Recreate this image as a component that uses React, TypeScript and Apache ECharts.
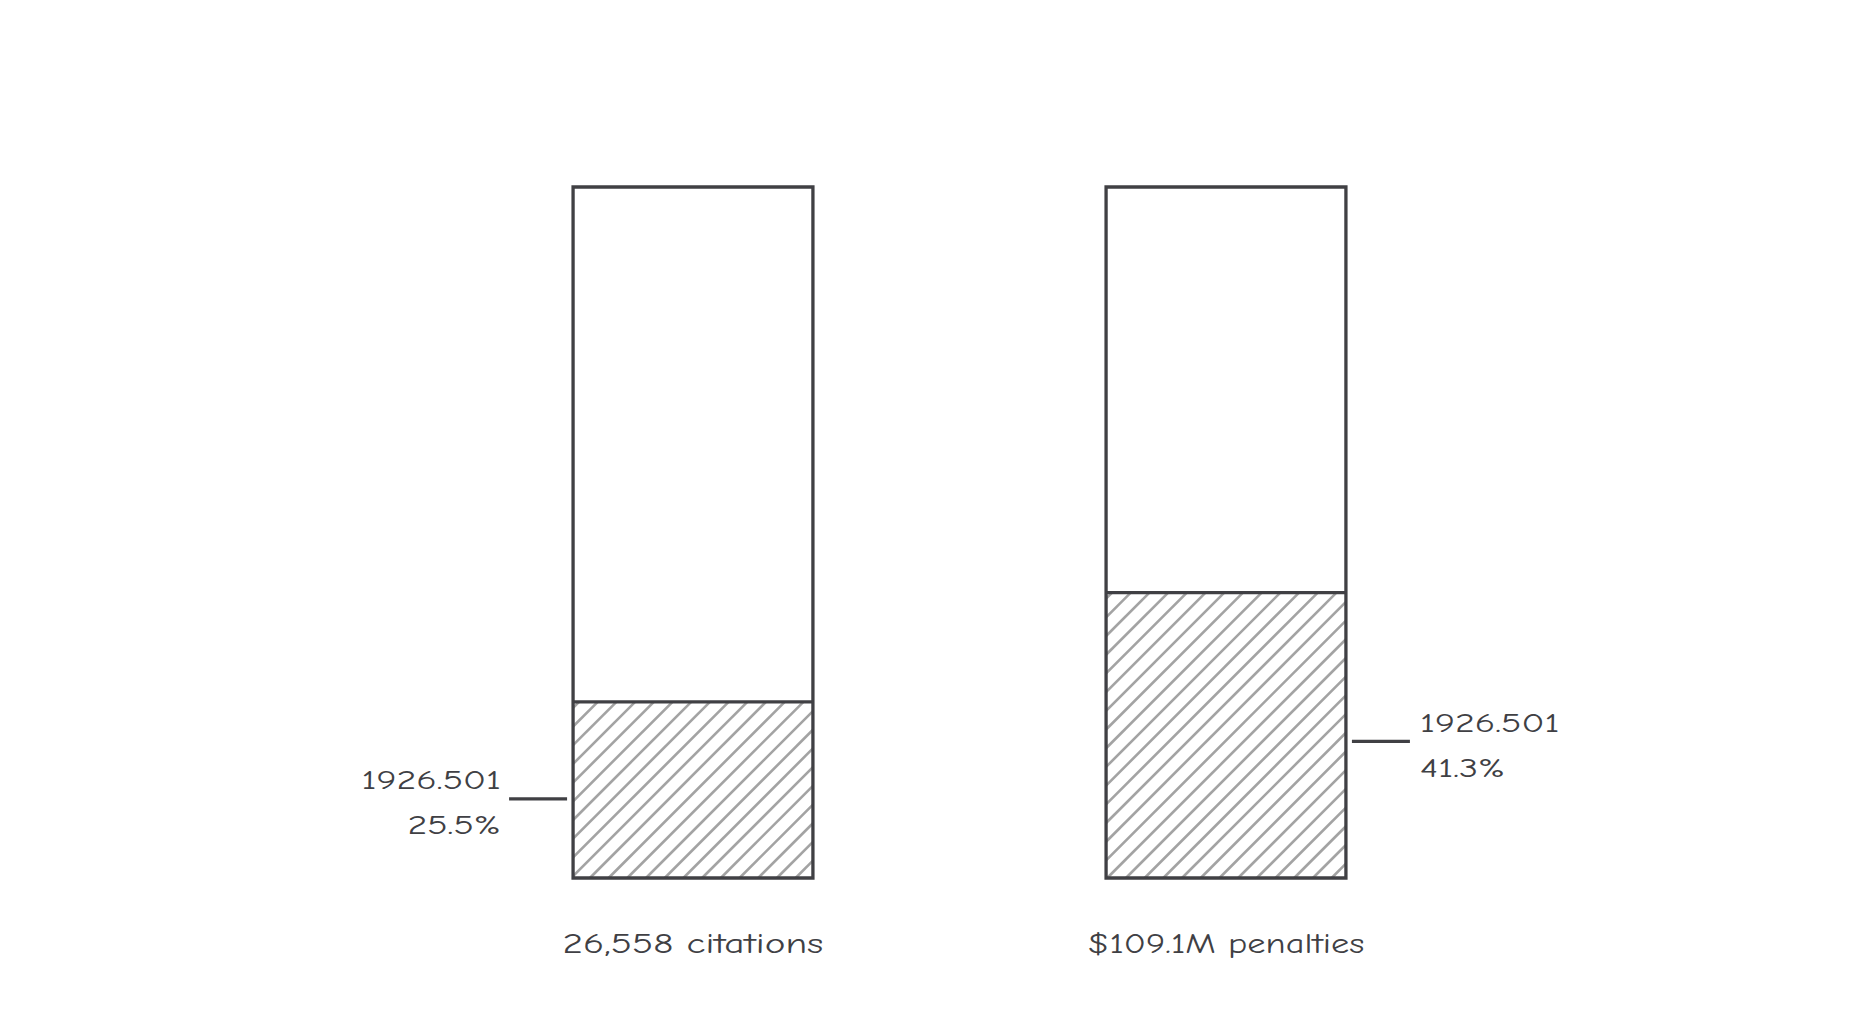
import React, { useEffect, useRef } from "react";
import * as echarts from "echarts";

const categories = ["26,558 citations", "$109.1M penalties"];
const shares = [25.5, 41.3];
const shareLabels = ["1926.501", "1926.501"];
const total = 100;

const FONT = "'Comic Neue', 'Humor Sans', 'DejaVu Sans', sans-serif";
const INK = "#404044";
const HATCH = "#a3a3a3";
const STRETCH = 1.4;

export default function App() {
  const ref = useRef<HTMLDivElement>(null);

  useEffect(() => {
    if (!ref.current) return;
    const chart = echarts.init(ref.current, null, { renderer: "svg" });

    const renderItem = (params: any, api: any) => {
      const idx = api.value(0);
      const v = api.value(1);
      const base = api.coord([idx, 0]);
      const top = api.coord([idx, total]);
      const split = api.coord([idx, v]);
      const w = api.size([1, 0])[0] * 0.45;
      const x0 = base[0] - w / 2;
      const x1 = base[0] + w / 2;
      const yTop = top[1];
      const yBot = base[1];
      const ySplit = split[1];

      const children: any[] = [];
      const step = 18.7;
      const lines: any[] = [];
      const cStart = x0 + ySplit;
      const cEnd = x1 + yBot;
      for (let c = cStart + 6; c < cEnd; c += step) {
        const sx = Math.max(x0, c - yBot);
        const ex = Math.min(x1, c - ySplit);
        if (ex - sx > 1) {
          lines.push({
            type: "line",
            shape: { x1: sx, y1: c - sx, x2: ex, y2: c - ex },
            style: { stroke: HATCH, lineWidth: 2.6 },
            silent: true,
          });
        }
      }
      children.push({
        type: "rect",
        shape: { x: x0, y: yTop, width: w, height: yBot - yTop },
        style: { fill: "#ffffff", stroke: null },
      });
      children.push(...lines);
      children.push({
        type: "line",
        shape: { x1: x0, y1: ySplit, x2: x1, y2: ySplit },
        style: { stroke: INK, lineWidth: 3.3 },
      });
      children.push({
        type: "rect",
        shape: { x: x0, y: yTop, width: w, height: yBot - yTop },
        style: { fill: "none", stroke: INK, lineWidth: 3.3 },
      });

      // leader line and label
      const onLeft = idx === 0;
      const midY = (ySplit + yBot) / 2 + (onLeft ? 9 : 6);
      const gap = 6;
      const len = 58;
      const lx1 = onLeft ? x0 - gap : x1 + gap;
      const lx2 = onLeft ? x0 - gap - len : x1 + gap + len;
      children.push({
        type: "line",
        shape: { x1: lx1, y1: midY, x2: lx2, y2: midY },
        style: { stroke: INK, lineWidth: 3.3 },
      });
      children.push({
        type: "text",
        x: onLeft ? lx2 - 8 : lx2 + 10,
        y: midY + 4,
        scaleX: STRETCH,
        style: {
          text: shareLabels[idx] + "\n" + v.toFixed(1) + "%",
          x: 0,
          y: 0,
          align: onLeft ? "right" : "left",
          verticalAlign: "middle",
          fontSize: 27,
          lineHeight: 45,
          fontFamily: FONT,
          fill: INK,
        },
      });
      // category label under the bar
      children.push({
        type: "text",
        x: base[0],
        y: yBot + 66,
        scaleX: idx === 0 ? STRETCH : 1.3,
        style: {
          text: categories[idx],
          x: 0,
          y: 0,
          align: "center",
          verticalAlign: "middle",
          fontSize: 28,
          fontFamily: FONT,
          fill: INK,
        },
      });
      return { type: "group", children };
    };

    chart.setOption({
      animation: false,
      backgroundColor: "#ffffff",
      grid: { left: 426.5, right: 374.5, top: 187, bottom: 135 },
      xAxis: {
        type: "category",
        data: categories,
        axisLine: { show: false },
        axisTick: { show: false },
        splitLine: { show: false },
        axisLabel: { show: false },
      },
      yAxis: {
        type: "value",
        min: 0,
        max: total,
        show: false,
      },
      series: [
        {
          type: "custom",
          renderItem,
          data: shares.map((v, i) => [i, v]),
          encode: { x: 0, y: 1 },
          clip: false,
        },
      ],
    });

    return () => chart.dispose();
  }, []);

  return (
    <div
      ref={ref}
      style={{ position: "fixed", left: 0, top: 0, width: "1867px", height: "1013px" }}
    />
  );
}
